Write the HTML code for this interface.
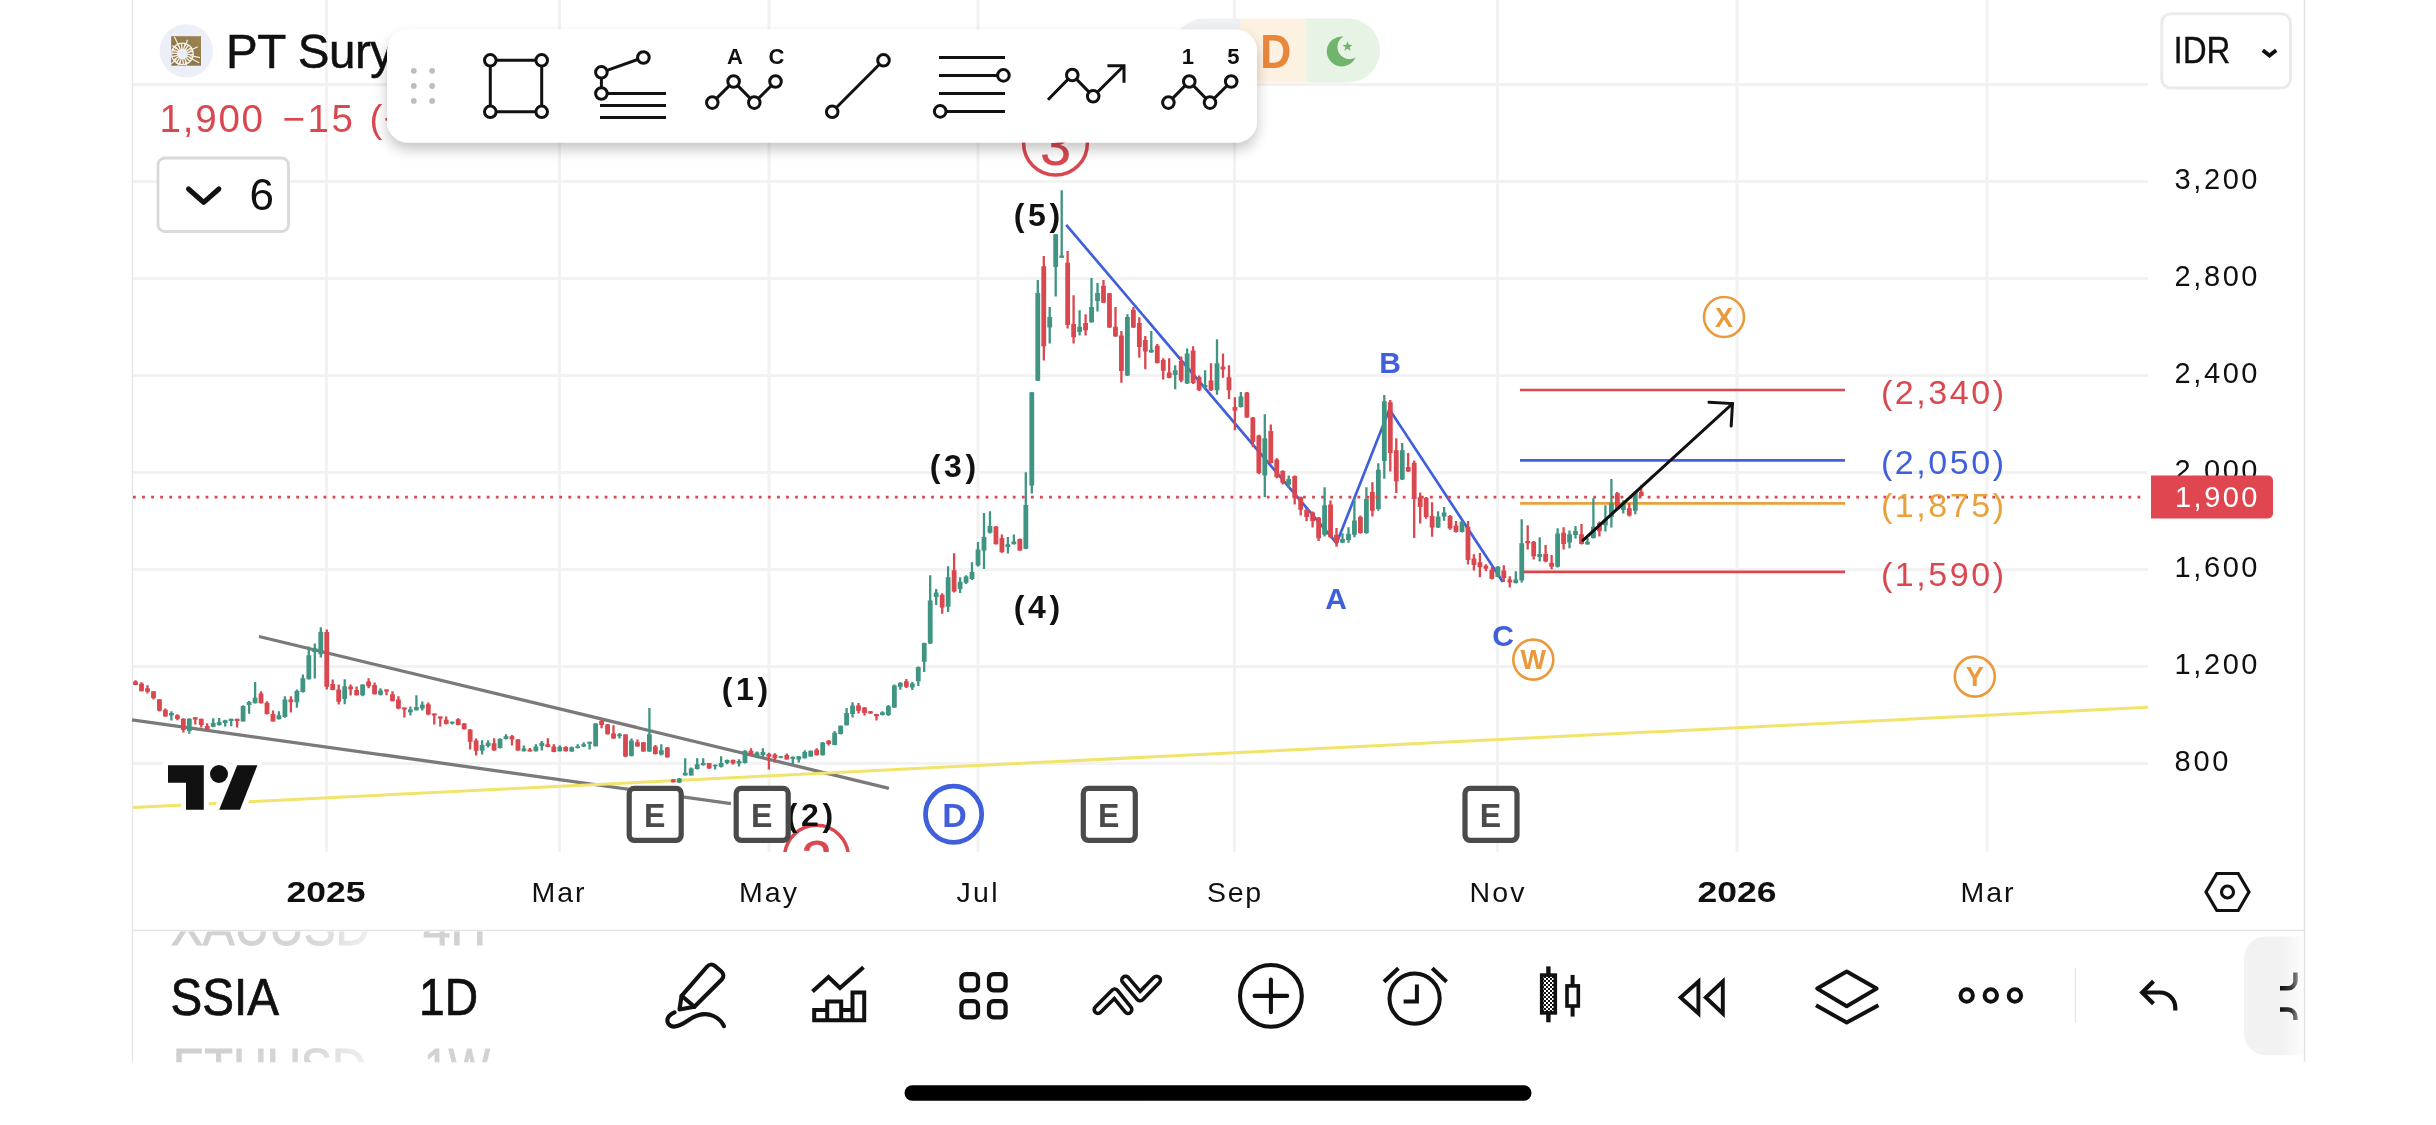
<!DOCTYPE html>
<html><head><meta charset="utf-8"><title>SSIA chart</title>
<style>
html,body{margin:0;padding:0;background:#fff;}
body{width:2436px;height:1125px;overflow:hidden;font-family:"Liberation Sans", sans-serif;}
svg{display:block;position:absolute;left:0;top:0;will-change:transform;}
svg text{font-family:"Liberation Sans", sans-serif;}
</style></head>
<body>
<svg width="2436" height="1125" viewBox="0 0 2436 1125">
<g stroke="#f2f2f3" stroke-width="3" fill="none">
<path d="M133 84.5H2148"/>
<path d="M133 181.5H2148"/>
<path d="M133 278.5H2148"/>
<path d="M133 375.5H2148"/>
<path d="M133 472.5H2148"/>
<path d="M133 569.5H2148"/>
<path d="M133 666.5H2148"/>
<path d="M133 763.5H2148"/>
<path d="M326.5 0V852"/>
<path d="M559.5 0V852"/>
<path d="M769 0V852"/>
<path d="M978 0V852"/>
<path d="M1234.5 0V852"/>
<path d="M1497.5 0V852"/>
<path d="M1737 0V852"/>
<path d="M1987 0V852"/>
</g>
<g stroke="#e3e3e6" stroke-width="1.3" fill="none">
<path d="M132.5 0V1062"/><path d="M2304.5 0V1062"/><path d="M132 930.5H2305"/>
</g>
<g stroke="#7a7a7a" stroke-width="3.3" fill="none" stroke-linecap="butt">
<path d="M259 636.5L889 788.3"/>
<path d="M132 719.8L731 803.6"/>
</g>
<path d="M133 807.5L2148 707.3" stroke="#f2e46a" stroke-width="3" fill="none"/>
<path d="M1066.2 224.8L1336.6 543.2L1389.4 409.3L1502.9 581.9" stroke="#3f5fdb" stroke-width="2.7" fill="none" stroke-linejoin="miter"/>
<path d="M1520 390.0H1845" stroke="#d9474f" stroke-width="2.6"/>
<path d="M1520 460.4H1845" stroke="#3f5fdb" stroke-width="2.6"/>
<path d="M1520 503.4H1845" stroke="#e9a23b" stroke-width="2.6"/>
<path d="M1523 571.9H1845" stroke="#d9474f" stroke-width="2.6"/>
<g id="cnd">
<path d="M135.6 680.3V685.3M141.5 682.2V691.3M147.5 685.3V693.6M153.5 691.3V699.5M159.5 699.2V711.6M165.4 708.4V716.6M177.4 714.2V720.3M183.4 718.2V732.6M195.3 717.3V724.4M201.3 718.7V727.6M207.2 723.3V729.9M237.1 718.7V727.6M261.0 691.3V703.5M267.0 701.3V714.5M273.0 710.5V721.6M290.9 696.3V712.6M326.8 629.4V689.6M332.7 679.6V690.2M338.7 684.4V704.5M350.6 684.4V695.6M356.6 686.4V695.6M368.6 678.2V688.3M374.6 682.4V694.5M386.5 689.4V695.2M392.5 691.3V701.4M398.4 696.3V709.3M404.4 707.5V717.6M428.3 702.4V715.3M434.3 713.4V724.6M440.3 716.4V726.4M446.2 716.4V724.4M458.2 718.2V725.3M464.2 723.0V729.4M470.1 729.2V749.4M476.1 738.5V755.5M494.1 738.2V750.7M512.0 735.0V745.4M518.0 739.0V750.7M529.9 748.1V751.6M547.8 738.2V747.3M553.8 744.3V752.3M565.8 746.2V751.6M601.6 719.8V728.3M607.6 724.0V734.5M613.5 725.3V738.8M625.5 734.2V757.3M637.5 739.6V746.6M643.4 742.1V751.7M655.4 745.0V754.6M667.3 747.1V757.8M673.3 779.1V782.6M709.1 762.9V768.8M733.0 759.4V764.5M751.0 748.2V755.3M768.9 752.8V769.5M774.9 753.2V762.4M786.8 753.5V759.6M816.7 748.2V755.6M828.6 740.0V745.5M858.5 703.0V713.5M864.5 707.1V715.6M870.5 711.1V713.7M876.5 713.8V720.4M906.3 679.0V687.9M942.2 593.3V613.8M954.1 553.3V592.4M996.0 526.1V544.6M1001.9 534.4V552.8M1019.8 538.5V550.8M1043.8 256.1V360.4M1067.6 251.1V328.4M1073.6 295.2V343.6M1085.6 314.2V335.6M1103.5 280.1V303.0M1109.5 292.9V327.9M1115.5 307.1V336.8M1121.4 331.1V382.7M1133.4 307.1V327.9M1139.3 317.2V357.8M1145.3 336.1V369.3M1157.3 344.0V363.6M1163.2 358.2V379.6M1169.2 358.2V378.3M1181.2 356.4V382.2M1193.1 346.3V384.0M1199.1 375.5V391.1M1211.0 363.2V391.1M1223.0 353.4V377.8M1229.0 365.3V399.1M1234.9 397.3V430.2M1246.9 392.0V417.8M1252.9 416.9V447.1M1258.8 434.7V474.3M1270.8 424.5V463.6M1276.8 458.3V478.2M1282.7 470.2V484.4M1294.7 475.6V504.4M1300.7 496.4V515.5M1306.6 508.9V521.3M1312.6 511.6V527.6M1318.6 516.9V540.9M1330.5 500.5V538.2M1336.5 528.1V546.8M1360.4 515.5V533.8M1372.4 482.2V516.5M1390.3 399.9V471.6M1396.3 438.3V492.9M1408.2 452.9V471.9M1414.2 460.4V537.9M1420.2 492.4V523.6M1426.1 497.0V518.7M1432.1 502.3V536.8M1450.0 515.1V529.7M1456.0 521.1V532.4M1468.0 521.1V564.5M1473.9 554.2V570.5M1479.9 553.1V577.3M1485.9 564.2V571.3M1491.9 566.7V579.6M1503.8 565.2V581.9M1509.8 576.3V587.4M1527.7 525.2V549.4M1533.7 541.1V559.6M1545.6 545.1V562.2M1551.6 555.1V569.3M1563.6 527.2V549.4M1581.5 524.1V544.5M1599.4 521.4V536.5M1617.3 492.0V510.1M1629.3 503.3V516.6M1641.2 485.2V496.5" stroke="#d9474f" stroke-width="2.3" fill="none"/>
<path d="M171.4 711.3V720.5M189.3 718.2V733.7M213.2 718.2V727.3M219.2 718.0V725.7M225.2 719.8V726.5M231.2 718.7V726.2M243.1 705.2V721.6M249.1 701.1V713.7M255.1 682.1V703.5M278.9 711.3V719.5M284.9 696.3V717.7M296.9 689.4V707.7M302.9 674.4V692.6M308.8 646.5V679.5M314.8 643.5V678.5M320.8 627.3V657.4M344.7 679.2V704.3M362.6 684.4V696.3M380.5 688.3V695.6M410.4 706.4V715.5M416.4 695.2V710.4M422.3 701.4V710.4M452.2 721.4V724.4M482.1 740.3V754.5M488.1 740.3V747.5M500.0 738.2V748.4M506.0 734.2V739.5M523.9 745.4V751.5M535.9 744.3V751.6M541.8 741.1V750.5M559.8 745.2V751.6M571.7 746.5V751.8M577.7 744.3V748.4M583.7 742.2V747.0M589.6 741.7V749.4M595.6 723.0V746.5M619.5 733.1V738.5M631.5 738.5V756.6M649.4 708.1V751.7M661.3 744.2V755.6M679.3 778.1V782.9M685.2 758.3V775.6M691.2 767.4V775.6M697.2 758.3V769.5M703.2 758.3V765.6M715.1 764.5V769.5M721.1 756.2V767.4M727.1 759.4V764.2M739.0 759.2V766.6M745.0 750.3V763.6M757.0 751.4V757.0M762.9 748.2V757.2M780.8 756.0V758.3M792.8 756.5V764.2M798.8 756.0V762.4M804.8 750.3V758.6M810.7 750.6V756.7M822.7 742.1V755.6M834.6 731.1V745.3M840.6 725.4V734.6M846.6 708.1V725.5M852.5 702.3V717.5M882.4 711.3V715.6M888.4 705.0V716.0M894.4 684.4V708.0M900.3 682.2V689.7M912.3 681.9V689.9M918.3 666.6V686.1M924.2 642.8V671.9M930.2 575.2V644.0M936.2 588.9V604.9M948.1 566.3V612.0M960.1 577.3V593.0M966.1 575.2V583.9M972.0 562.2V580.0M978.0 542.1V566.4M984.0 513.1V569.1M990.0 511.3V533.6M1007.9 537.1V553.5M1013.9 534.4V544.6M1025.8 472.2V549.2M1031.8 392.2V493.6M1037.8 280.1V380.7M1049.7 307.1V343.6M1055.7 234.2V296.4M1061.7 190.3V257.7M1079.6 310.3V335.6M1091.5 278.1V322.8M1097.5 283.1V311.6M1127.4 314.2V375.9M1151.3 331.1V352.8M1175.2 365.3V389.3M1187.1 348.4V384.0M1205.1 370.3V388.4M1217.0 339.2V394.7M1240.9 392.0V407.5M1264.8 414.2V496.9M1288.7 475.6V488.0M1324.6 487.2V536.4M1342.5 533.2V543.0M1348.5 527.2V542.7M1354.4 498.2V537.3M1366.4 487.2V533.8M1378.3 463.2V510.7M1384.3 395.1V478.7M1402.2 443.1V479.9M1438.1 511.2V527.9M1444.1 507.1V520.8M1462.0 521.1V532.4M1497.8 566.0V577.3M1515.8 571.3V583.4M1521.7 519.2V582.6M1539.7 537.3V561.5M1557.6 528.2V567.5M1569.5 530.5V548.3M1575.5 526.0V538.5M1587.5 538.0V544.5M1593.4 498.3V538.5M1605.4 505.2V531.5M1611.4 479.1V527.5M1623.3 500.3V513.4M1635.3 491.2V514.3" stroke="#3f9582" stroke-width="2.3" fill="none"/>
<path d="M133.15 681.4h4.8V685.1h-4.8zM139.12 683.5h4.8V691.3h-4.8zM145.10 688.3h4.8V691.7h-4.8zM151.08 691.3h4.8V697.9h-4.8zM157.05 699.2h4.8V710.7h-4.8zM163.03 709.7h4.8V716.6h-4.8zM174.97 715.3h4.8V718.7h-4.8zM180.95 718.7h4.8V729.9h-4.8zM192.90 717.3h4.8V719.5h-4.8zM198.88 718.7h4.8V725.1h-4.8zM204.85 726.0h4.8V729.4h-4.8zM234.72 718.7h4.8V720.9h-4.8zM258.62 693.6h4.8V703.3h-4.8zM264.60 702.7h4.8V714.1h-4.8zM270.58 713.9h4.8V721.4h-4.8zM288.50 699.5h4.8V702.2h-4.8zM324.35 632.0h4.8V686.7h-4.8zM330.33 684.0h4.8V689.9h-4.8zM336.30 689.4h4.8V701.7h-4.8zM348.25 686.4h4.8V689.2h-4.8zM354.23 689.9h4.8V695.2h-4.8zM366.18 681.4h4.8V686.2h-4.8zM372.15 685.1h4.8V694.2h-4.8zM384.10 689.4h4.8V691.5h-4.8zM390.08 694.2h4.8V701.1h-4.8zM396.05 699.5h4.8V708.6h-4.8zM402.03 707.5h4.8V709.6h-4.8zM425.93 704.3h4.8V714.4h-4.8zM431.90 713.4h4.8V715.5h-4.8zM437.88 716.4h4.8V718.5h-4.8zM443.85 719.8h4.8V724.0h-4.8zM455.80 719.2h4.8V724.9h-4.8zM461.78 723.5h4.8V729.2h-4.8zM467.75 729.4h4.8V741.7h-4.8zM473.73 740.6h4.8V750.7h-4.8zM491.65 743.3h4.8V750.5h-4.8zM509.57 736.3h4.8V739.5h-4.8zM515.55 739.5h4.8V750.5h-4.8zM527.50 749.4h4.8V751.6h-4.8zM545.43 744.3h4.8V747.0h-4.8zM551.40 746.5h4.8V752.0h-4.8zM563.35 747.0h4.8V751.3h-4.8zM599.20 720.8h4.8V725.1h-4.8zM605.18 724.6h4.8V734.2h-4.8zM611.15 733.6h4.8V738.5h-4.8zM623.10 734.5h4.8V756.6h-4.8zM635.05 742.3h4.8V746.4h-4.8zM641.02 742.3h4.8V751.4h-4.8zM652.98 746.6h4.8V754.0h-4.8zM664.93 747.6h4.8V757.2h-4.8zM670.90 779.4h4.8V782.3h-4.8zM706.75 763.1h4.8V768.5h-4.8zM730.65 759.9h4.8V763.6h-4.8zM748.57 750.8h4.8V755.1h-4.8zM766.50 754.0h4.8V756.7h-4.8zM772.48 754.6h4.8V758.3h-4.8zM784.43 755.1h4.8V759.4h-4.8zM814.30 749.8h4.8V755.3h-4.8zM826.25 740.7h4.8V743.9h-4.8zM856.12 705.5h4.8V710.8h-4.8zM862.10 707.6h4.8V712.9h-4.8zM868.07 711.3h4.8V713.5h-4.8zM874.05 714.0h4.8V716.2h-4.8zM903.93 681.3h4.8V686.7h-4.8zM939.77 594.8h4.8V607.6h-4.8zM951.73 570.2h4.8V591.6h-4.8zM993.55 526.4h4.8V544.2h-4.8zM999.52 538.0h4.8V552.2h-4.8zM1017.45 538.9h4.8V550.4h-4.8zM1041.35 266.2h4.8V346.2h-4.8zM1065.25 262.7h4.8V324.9h-4.8zM1071.22 324.0h4.8V337.3h-4.8zM1083.17 323.1h4.8V330.2h-4.8zM1101.10 285.8h4.8V302.7h-4.8zM1107.07 293.2h4.8V327.6h-4.8zM1113.05 326.7h4.8V336.4h-4.8zM1119.02 335.6h4.8V371.1h-4.8zM1130.97 309.8h4.8V327.6h-4.8zM1136.95 323.1h4.8V347.1h-4.8zM1142.92 340.0h4.8V351.6h-4.8zM1154.87 345.8h4.8V363.0h-4.8zM1160.85 360.0h4.8V370.7h-4.8zM1166.82 372.4h4.8V377.8h-4.8zM1178.77 360.9h4.8V380.4h-4.8zM1190.72 350.6h4.8V383.1h-4.8zM1196.70 376.9h4.8V390.2h-4.8zM1208.65 380.4h4.8V390.2h-4.8zM1220.60 366.6h4.8V369.4h-4.8zM1226.57 377.2h4.8V390.2h-4.8zM1232.55 407.1h4.8V410.7h-4.8zM1244.50 392.4h4.8V417.4h-4.8zM1250.47 417.4h4.8V441.8h-4.8zM1256.45 435.6h4.8V472.9h-4.8zM1268.40 431.1h4.8V463.1h-4.8zM1274.37 459.6h4.8V477.3h-4.8zM1280.35 471.1h4.8V482.7h-4.8zM1292.30 476.0h4.8V498.2h-4.8zM1298.27 497.3h4.8V509.8h-4.8zM1304.25 509.8h4.8V516.9h-4.8zM1310.22 512.4h4.8V521.3h-4.8zM1316.20 517.8h4.8V538.2h-4.8zM1328.15 504.4h4.8V537.3h-4.8zM1334.12 534.7h4.8V542.7h-4.8zM1358.02 516.9h4.8V532.9h-4.8zM1369.97 492.0h4.8V510.7h-4.8zM1387.90 402.2h4.8V452.9h-4.8zM1393.87 450.2h4.8V481.3h-4.8zM1405.82 467.1h4.8V471.6h-4.8zM1411.80 462.7h4.8V499.1h-4.8zM1417.77 497.3h4.8V507.1h-4.8zM1423.75 497.7h4.8V516.9h-4.8zM1429.72 516.0h4.8V527.6h-4.8zM1447.65 516.0h4.8V528.4h-4.8zM1453.62 525.5h4.8V532.0h-4.8zM1465.57 526.7h4.8V559.9h-4.8zM1471.55 558.4h4.8V564.9h-4.8zM1477.52 562.2h4.8V567.2h-4.8zM1483.50 565.7h4.8V568.7h-4.8zM1489.47 569.8h4.8V578.8h-4.8zM1501.42 570.5h4.8V578.1h-4.8zM1507.40 579.6h4.8V582.6h-4.8zM1525.32 541.1h4.8V543.3h-4.8zM1531.30 541.8h4.8V556.2h-4.8zM1543.25 553.9h4.8V561.5h-4.8zM1549.22 562.7h4.8V566.7h-4.8zM1561.17 532.8h4.8V544.1h-4.8zM1579.10 534.3h4.8V544.1h-4.8zM1597.02 522.9h4.8V531.2h-4.8zM1614.95 493.2h4.8V509.3h-4.8zM1626.90 508.3h4.8V515.4h-4.8zM1638.85 491.7h4.8V496.0h-4.8z" fill="#d9474f"/>
<path d="M169.00 712.9h4.8V715.5h-4.8zM186.93 718.7h4.8V731.0h-4.8zM210.83 723.0h4.8V726.7h-4.8zM216.80 721.9h4.8V725.1h-4.8zM222.78 720.3h4.8V723.0h-4.8zM228.75 718.7h4.8V720.9h-4.8zM240.70 705.9h4.8V721.4h-4.8zM246.67 702.0h4.8V704.9h-4.8zM252.65 697.7h4.8V703.3h-4.8zM276.55 715.3h4.8V719.3h-4.8zM282.53 699.5h4.8V717.1h-4.8zM294.48 691.0h4.8V702.2h-4.8zM300.45 678.2h4.8V692.0h-4.8zM306.43 655.2h4.8V679.2h-4.8zM312.40 648.3h4.8V652.0h-4.8zM318.38 631.7h4.8V654.2h-4.8zM342.28 686.2h4.8V699.0h-4.8zM360.20 684.6h4.8V695.2h-4.8zM378.12 690.4h4.8V694.7h-4.8zM408.00 709.6h4.8V712.3h-4.8zM413.98 707.0h4.8V710.2h-4.8zM419.95 704.8h4.8V708.6h-4.8zM449.82 721.7h4.8V723.5h-4.8zM479.70 744.9h4.8V750.7h-4.8zM485.68 742.7h4.8V745.9h-4.8zM497.62 739.0h4.8V748.1h-4.8zM503.60 736.3h4.8V739.0h-4.8zM521.52 748.6h4.8V751.3h-4.8zM533.48 746.5h4.8V751.3h-4.8zM539.45 742.7h4.8V745.9h-4.8zM557.38 747.0h4.8V751.3h-4.8zM569.32 747.3h4.8V751.6h-4.8zM575.30 746.2h4.8V748.1h-4.8zM581.27 744.3h4.8V746.5h-4.8zM587.25 741.7h4.8V743.8h-4.8zM593.23 723.5h4.8V746.2h-4.8zM617.12 734.2h4.8V736.3h-4.8zM629.07 740.6h4.8V755.8h-4.8zM647.00 734.3h4.8V751.4h-4.8zM658.95 750.3h4.8V754.6h-4.8zM676.88 778.6h4.8V782.6h-4.8zM682.85 772.7h4.8V775.4h-4.8zM688.82 768.5h4.8V775.4h-4.8zM694.80 764.2h4.8V769.0h-4.8zM700.77 763.1h4.8V765.2h-4.8zM712.73 764.7h4.8V766.3h-4.8zM718.70 763.1h4.8V766.8h-4.8zM724.68 759.9h4.8V763.1h-4.8zM736.62 761.0h4.8V763.6h-4.8zM742.60 750.8h4.8V763.1h-4.8zM754.55 752.4h4.8V756.7h-4.8zM760.52 751.9h4.8V755.1h-4.8zM778.45 756.2h4.8V757.8h-4.8zM790.40 756.7h4.8V758.8h-4.8zM796.37 756.2h4.8V759.4h-4.8zM802.35 751.9h4.8V758.3h-4.8zM808.32 750.8h4.8V756.4h-4.8zM820.27 742.5h4.8V755.3h-4.8zM832.23 732.7h4.8V745.0h-4.8zM838.20 725.8h4.8V734.0h-4.8zM844.18 712.9h4.8V725.2h-4.8zM850.15 705.5h4.8V714.0h-4.8zM880.02 712.2h4.8V715.1h-4.8zM886.00 706.2h4.8V715.1h-4.8zM891.98 685.4h4.8V707.5h-4.8zM897.95 682.8h4.8V686.7h-4.8zM909.90 683.6h4.8V687.6h-4.8zM915.87 667.1h4.8V681.3h-4.8zM921.85 643.1h4.8V661.8h-4.8zM927.82 600.4h4.8V643.5h-4.8zM933.80 592.4h4.8V596.9h-4.8zM945.75 577.3h4.8V606.7h-4.8zM957.70 581.8h4.8V588.9h-4.8zM963.68 576.4h4.8V582.7h-4.8zM969.65 572.0h4.8V579.1h-4.8zM975.62 549.6h4.8V565.6h-4.8zM981.60 537.1h4.8V550.4h-4.8zM987.57 526.1h4.8V532.7h-4.8zM1005.50 544.2h4.8V546.9h-4.8zM1011.48 541.6h4.8V544.2h-4.8zM1023.43 505.1h4.8V548.7h-4.8zM1029.40 392.2h4.8V485.6h-4.8zM1035.37 292.9h4.8V380.7h-4.8zM1047.32 316.9h4.8V327.6h-4.8zM1053.30 234.2h4.8V267.1h-4.8zM1059.27 255.6h4.8V257.7h-4.8zM1077.20 326.7h4.8V332.0h-4.8zM1089.15 307.1h4.8V322.2h-4.8zM1095.12 292.9h4.8V300.9h-4.8zM1125.00 316.9h4.8V375.6h-4.8zM1148.90 349.8h4.8V352.4h-4.8zM1172.80 370.3h4.8V375.1h-4.8zM1184.75 353.4h4.8V383.6h-4.8zM1202.67 384.9h4.8V387.6h-4.8zM1214.62 363.2h4.8V390.2h-4.8zM1238.52 396.4h4.8V407.1h-4.8zM1262.42 438.2h4.8V475.6h-4.8zM1286.32 479.1h4.8V484.4h-4.8zM1322.17 505.3h4.8V534.7h-4.8zM1340.10 539.1h4.8V542.7h-4.8zM1346.07 533.8h4.8V540.0h-4.8zM1352.05 520.4h4.8V534.7h-4.8zM1364.00 499.1h4.8V532.9h-4.8zM1375.95 469.8h4.8V508.9h-4.8zM1381.92 401.3h4.8V460.9h-4.8zM1399.85 450.2h4.8V479.6h-4.8zM1435.70 516.5h4.8V527.6h-4.8zM1441.67 512.4h4.8V516.5h-4.8zM1459.60 521.4h4.8V532.0h-4.8zM1495.45 566.7h4.8V576.9h-4.8zM1513.37 579.6h4.8V582.9h-4.8zM1519.35 543.3h4.8V580.3h-4.8zM1537.27 553.9h4.8V556.9h-4.8zM1555.20 533.5h4.8V566.7h-4.8zM1567.15 534.3h4.8V542.6h-4.8zM1573.12 530.9h4.8V535.0h-4.8zM1585.07 541.8h4.8V544.4h-4.8zM1591.05 526.7h4.8V538.0h-4.8zM1603.00 519.2h4.8V525.2h-4.8zM1608.97 503.3h4.8V516.9h-4.8zM1620.92 503.7h4.8V510.1h-4.8zM1632.87 491.7h4.8V510.8h-4.8z" fill="#3f9582"/>
</g>
<path d="M133 497.1H2146" stroke="#d9474f" stroke-width="2.6" stroke-dasharray="2.8 6.27" fill="none"/>
<g stroke="#111" stroke-width="3" fill="none" stroke-linecap="round"><path d="M1583 540.3L1732.5 403.6"/><path d="M1709 402.3L1732.5 403.6L1731.2 426"/></g>
<clipPath id="pane"><rect x="133" y="0" width="2015" height="852"/></clipPath>
<g clip-path="url(#pane)">
<circle cx="1055.5" cy="143.2" r="31.9" stroke="#d9474f" stroke-width="3.5" fill="none"/>
<text x="1055.5" y="165.4" font-size="56" fill="#d9474f" text-anchor="middle" stroke="#d9474f" stroke-width="0.2">3</text>
<circle cx="816.5" cy="857.2" r="31.9" stroke="#d9474f" stroke-width="3.5" fill="none"/>
<text x="816.5" y="879.2" font-size="56" fill="#d9474f" text-anchor="middle" stroke="#d9474f" stroke-width="0.2">2</text>
</g>
<text x="745" y="700.456" font-size="32" fill="#111" font-weight="bold" text-anchor="middle" textLength="46.5" lengthAdjust="spacing" >(1)</text>
<text x="810" y="826.456" font-size="32" fill="#111" font-weight="bold" text-anchor="middle" textLength="46.5" lengthAdjust="spacing" >(2)</text>
<text x="953" y="477.456" font-size="32" fill="#111" font-weight="bold" text-anchor="middle" textLength="46.5" lengthAdjust="spacing" >(3)</text>
<text x="1037" y="618.456" font-size="32" fill="#111" font-weight="bold" text-anchor="middle" textLength="46.5" lengthAdjust="spacing" >(4)</text>
<text x="1037" y="226.456" font-size="32" fill="#111" font-weight="bold" text-anchor="middle" textLength="46.5" lengthAdjust="spacing" >(5)</text>
<text x="1336" y="608.74" font-size="30" fill="#3f5fdb" font-weight="bold" text-anchor="middle" >A</text>
<text x="1390" y="372.74" font-size="30" fill="#3f5fdb" font-weight="bold" text-anchor="middle" >B</text>
<text x="1503" y="645.74" font-size="30" fill="#3f5fdb" font-weight="bold" text-anchor="middle" >C</text>
<text x="1881" y="403.8" font-size="34" fill="#d9474f" textLength="123" lengthAdjust="spacing" >(2,340)</text>
<text x="1881" y="474.2" font-size="34" fill="#3f5fdb" textLength="123" lengthAdjust="spacing" >(2,050)</text>
<text x="1881" y="516.9" font-size="34" fill="#e9a23b" textLength="123" lengthAdjust="spacing" >(1,875)</text>
<text x="1881" y="586.4000000000001" font-size="34" fill="#d9474f" textLength="123" lengthAdjust="spacing" >(1,590)</text>
<circle cx="1724" cy="317" r="20" stroke="#ea9a3c" stroke-width="2.6" fill="none"/>
<text x="1724" y="326.8" font-size="27" fill="#ea9a3c" font-weight="bold" text-anchor="middle" >X</text>
<circle cx="1533.3" cy="659.6" r="20" stroke="#ea9a3c" stroke-width="2.6" fill="none"/>
<text x="1533.3" y="669.4" font-size="27" fill="#ea9a3c" font-weight="bold" text-anchor="middle" >W</text>
<circle cx="1974.8" cy="676.6" r="20" stroke="#ea9a3c" stroke-width="2.6" fill="none"/>
<text x="1974.8" y="686.4" font-size="27" fill="#ea9a3c" font-weight="bold" text-anchor="middle" >Y</text>
<rect x="629.2" y="788.3" width="52" height="52" rx="5" fill="#fff" stroke="#4a4a4a" stroke-width="5.2"/>
<text x="644.0" y="827.4" font-size="34" fill="#4a4a4a" font-weight="bold" textLength="21.4" lengthAdjust="spacingAndGlyphs" >E</text>
<rect x="736.2" y="788.3" width="52" height="52" rx="5" fill="#fff" stroke="#4a4a4a" stroke-width="5.2"/>
<text x="751.0" y="827.4" font-size="34" fill="#4a4a4a" font-weight="bold" textLength="21.4" lengthAdjust="spacingAndGlyphs" >E</text>
<rect x="1083.3" y="788.3" width="52" height="52" rx="5" fill="#fff" stroke="#4a4a4a" stroke-width="5.2"/>
<text x="1098.1" y="827.4" font-size="34" fill="#4a4a4a" font-weight="bold" textLength="21.4" lengthAdjust="spacingAndGlyphs" >E</text>
<rect x="1465" y="788.3" width="52" height="52" rx="5" fill="#fff" stroke="#4a4a4a" stroke-width="5.2"/>
<text x="1479.8" y="827.4" font-size="34" fill="#4a4a4a" font-weight="bold" textLength="21.4" lengthAdjust="spacingAndGlyphs" >E</text>
<circle cx="953.6" cy="814.3" r="28.1" stroke="#3f5fdb" stroke-width="4.8" fill="#fff"/>
<text x="954.5" y="827.4" font-size="34" fill="#3f5fdb" font-weight="bold" text-anchor="middle" >D</text>
<g stroke="#fff" stroke-width="10" stroke-linejoin="round" fill="#fff"><path d="M168 765.2H203.8V809.8H186V782.8H168z"/><circle cx="219" cy="774" r="9"/><path d="M237.2 765.2H257.4L240 809.8H219.2z"/></g>
<g fill="#111"><path d="M168 765.2H203.8V809.8H186V782.8H168z"/><circle cx="219" cy="774" r="9"/><path d="M237.2 765.2H257.4L240 809.8H219.2z"/></g>
<text x="2174.5" y="188.70000000000002" font-size="29" fill="#101010" textLength="83" lengthAdjust="spacing" >3,200</text>
<text x="2174.5" y="285.7" font-size="29" fill="#101010" textLength="83" lengthAdjust="spacing" >2,800</text>
<text x="2174.5" y="382.7" font-size="29" fill="#101010" textLength="83" lengthAdjust="spacing" >2,400</text>
<text x="2174.5" y="479.7" font-size="29" fill="#101010" textLength="83" lengthAdjust="spacing" >2,000</text>
<text x="2174.5" y="576.6999999999999" font-size="29" fill="#101010" textLength="83" lengthAdjust="spacing" >1,600</text>
<text x="2174.5" y="673.6999999999999" font-size="29" fill="#101010" textLength="83" lengthAdjust="spacing" >1,200</text>
<text x="2174.5" y="770.6999999999999" font-size="29" fill="#101010" textLength="54" lengthAdjust="spacing" >800</text>
<path d="M2151 475.5H2268a5 5 0 0 1 5 5V513.5a5 5 0 0 1 -5 5H2151z" fill="#df4650"/>
<text x="2175" y="506.9" font-size="29" fill="#fff" textLength="82.5" lengthAdjust="spacing" >1,900</text>
<text x="286.5" y="902.3" font-size="30" fill="#101010" font-weight="bold" textLength="79" lengthAdjust="spacingAndGlyphs" >2025</text>
<text x="558" y="902" font-size="28.5" fill="#101010" text-anchor="middle" textLength="53" lengthAdjust="spacing" >Mar</text>
<text x="768" y="902" font-size="28.5" fill="#101010" text-anchor="middle" textLength="58" lengthAdjust="spacing" >May</text>
<text x="977" y="902" font-size="28.5" fill="#101010" text-anchor="middle" textLength="41" lengthAdjust="spacing" >Jul</text>
<text x="1234" y="902" font-size="28.5" fill="#101010" text-anchor="middle" textLength="54" lengthAdjust="spacing" >Sep</text>
<text x="1497" y="902" font-size="28.5" fill="#101010" text-anchor="middle" textLength="55" lengthAdjust="spacing" >Nov</text>
<text x="1697.5" y="902.3" font-size="30" fill="#101010" font-weight="bold" textLength="79" lengthAdjust="spacingAndGlyphs" >2026</text>
<text x="1987" y="902" font-size="28.5" fill="#101010" text-anchor="middle" textLength="53" lengthAdjust="spacing" >Mar</text>
<circle cx="186.3" cy="50.9" r="26.6" fill="#eceef8"/>
<defs><linearGradient id="lg" x1="0" y1="1" x2="1" y2="0"><stop offset="0" stop-color="#857046"/><stop offset="1" stop-color="#9c8353"/></linearGradient></defs>
<rect x="171.2" y="36.2" width="29.8" height="29.5" fill="url(#lg)"/>
<clipPath id="lgc"><rect x="171.2" y="36.2" width="29.8" height="29.5"/></clipPath>
<g clip-path="url(#lgc)">
<path d="M185.9 54.2L193.4 54.8M185.6 55.4L192.4 58.5M184.9 56.4L190.2 61.6M183.9 57.1L187.1 63.8M182.7 57.4L183.4 64.9M181.5 57.3L179.6 64.5M180.4 56.8L176.2 63.0M179.5 55.9L173.4 60.3M179.0 54.8L171.8 56.8M178.9 53.6L171.4 53.0M179.2 52.4L172.4 49.3M179.9 51.4L174.6 46.2M180.9 50.7L177.7 44.0M182.1 50.4L181.4 42.9M183.3 50.5L185.2 43.3M184.4 51.0L188.6 44.8M185.3 51.9L191.4 47.5M185.8 53.0L193.0 51.0" stroke="#f6f0e2" stroke-width="1.35" fill="none"/>
<path d="M179.0 46.6L174.4 36.7M185.1 46.4L187.5 39.8M189.7 50.5L197.8 46.7M190.2 55.6L200.0 57.6M189.5 57.7L199.2 62.8M185.1 61.4L187.2 67.1M179.7 61.4L176.9 68.9M176.5 59.3L169.0 65.9M174.7 56.0L168.9 57.5M174.9 51.2L168.3 48.8M176.3 48.8L172.4 45.5" stroke="#f6f0e2" stroke-width="1.2" fill="none"/>
<circle cx="182.4" cy="53.9" r="10.8" stroke="#f6f0e2" stroke-width="1.3" fill="none"/>
<circle cx="182.4" cy="53.9" r="5.2" fill="#eceef8"/>
</g>
<text x="226" y="67.7" font-size="47.5" fill="#101010" textLength="194" lengthAdjust="spacing" stroke="#101010" stroke-width="0.5">PT Surya</text>
<text x="159.5" y="131.7" font-size="38.5" fill="#d9474f" textLength="103.5" lengthAdjust="spacing" >1,900</text>
<text x="282.5" y="131.7" font-size="38.5" fill="#d9474f" textLength="70.5" lengthAdjust="spacing" >−15</text>
<text x="369.5" y="131.7" font-size="38.5" fill="#d9474f" textLength="166" lengthAdjust="spacing" >(−0.78%)</text>
<rect x="158" y="158" width="130.5" height="73.5" rx="7" fill="#fff" stroke="#d9d9d9" stroke-width="2.8"/>
<path d="M188.5 189L203.7 202.3L218.9 189" stroke="#111" stroke-width="5" fill="none" stroke-linecap="round" stroke-linejoin="round"/>
<text x="249.5" y="209.8" font-size="44" fill="#101010" >6</text>
<clipPath id="pill"><rect x="1172" y="18.5" width="208" height="64" rx="32"/></clipPath>
<g clip-path="url(#pill)"><rect x="1172" y="18" width="69" height="66" fill="#eef0f3"/><rect x="1240.5" y="18" width="66" height="66" fill="#fdf1e1"/><rect x="1306.4" y="18" width="75" height="66" fill="#e7f3e4"/></g>
<text x="1260.2" y="67.5" font-size="47.5" fill="#e8873a" font-weight="bold" textLength="31" lengthAdjust="spacingAndGlyphs" >D</text>
<path d="M1343.5 36.5A15 15 0 1 0 1355.5 57.5A12 12 0 0 1 1343.5 36.5z" fill="#6fb56b"/>
<polygon points="1347.5,41.3 1348.8,44.7 1352.4,44.9 1349.6,47.2 1350.6,50.7 1347.5,48.7 1344.4,50.7 1345.4,47.2 1342.6,44.9 1346.2,44.7" fill="#6fb56b"/>
<rect x="2161.8" y="13.7" width="128.6" height="74.3" rx="9" fill="#fff" stroke="#ebebeb" stroke-width="3"/>
<text x="2173.5" y="63" font-size="36" fill="#101010" textLength="57" lengthAdjust="spacingAndGlyphs" stroke="#101010" stroke-width="0.3">IDR</text>
<path d="M2262.8 50.2L2269.5 55.6L2276.2 50.2" stroke="#111" stroke-width="3.8" fill="none" stroke-linecap="butt" stroke-linejoin="miter"/>
<polygon points="2249.0,892.0 2238.2,910.5 2216.8,910.5 2206.0,892.0 2216.8,873.5 2238.2,873.5" stroke="#111" stroke-width="3.2" fill="none" stroke-linejoin="miter"/>
<circle cx="2227.5" cy="892" r="6" stroke="#111" stroke-width="3.2" fill="none"/>
<defs><filter id="sh" x="-10%" y="-30%" width="120%" height="180%"><feGaussianBlur in="SourceAlpha" stdDeviation="7"/><feOffset dy="7"/><feComponentTransfer><feFuncA type="linear" slope="0.23"/></feComponentTransfer><feMerge><feMergeNode/><feMergeNode in="SourceGraphic"/></feMerge></filter></defs>
<rect x="387" y="29.5" width="870" height="113" rx="21" fill="#fff" filter="url(#sh)"/>
<circle cx="413.8" cy="70.8" r="2.9" fill="#bdbdbd"/>
<circle cx="413.8" cy="86" r="2.9" fill="#bdbdbd"/>
<circle cx="413.8" cy="100.9" r="2.9" fill="#bdbdbd"/>
<circle cx="432.1" cy="70.8" r="2.9" fill="#bdbdbd"/>
<circle cx="432.1" cy="86" r="2.9" fill="#bdbdbd"/>
<circle cx="432.1" cy="100.9" r="2.9" fill="#bdbdbd"/>
<g stroke="#111" stroke-width="3" fill="#fff" stroke-linecap="butt">
<path d="M490.3 60.3H541.7V111.8H490.3z" fill="none"/>
<circle cx="490.3" cy="60.3" r="5.8"/>
<circle cx="541.7" cy="60.3" r="5.8"/>
<circle cx="490.3" cy="111.8" r="5.8"/>
<circle cx="541.7" cy="111.8" r="5.8"/>
<path d="M601.4 72.3L643.4 57.5M601.4 72.3V93.5H666M600 105.5H666M600 117.4H666" fill="none"/>
<circle cx="601.4" cy="72.3" r="5.8"/>
<circle cx="643.4" cy="57.5" r="5.8"/>
<circle cx="601.4" cy="93.5" r="5.8"/>
<path d="M712.3 102.6L733.6 81.5L754.3 102.6L775.5 81.5" fill="none"/>
<circle cx="712.3" cy="102.6" r="5.8"/>
<circle cx="733.6" cy="81.5" r="5.8"/>
<circle cx="754.3" cy="102.6" r="5.8"/>
<circle cx="775.5" cy="81.5" r="5.8"/>
<path d="M832.2 111.8L883.5 60.3" fill="none"/>
<circle cx="832.2" cy="111.8" r="5.8"/>
<circle cx="883.5" cy="60.3" r="5.8"/>
<path d="M939 57.5H1005M939 75.4H1003M939 93.5H1005M940 111.4H1005" fill="none"/>
<circle cx="1003.4" cy="75.4" r="5.8"/>
<circle cx="940.2" cy="111.4" r="5.8"/>
<path d="M1048 99.8L1072.3 75L1093.2 96.3L1124 65.8M1107.4 65.8H1124V82.8" fill="none" stroke-linejoin="miter"/>
<circle cx="1072.3" cy="75" r="5.8"/>
<circle cx="1093.2" cy="96.3" r="5.8"/>
<path d="M1168.4 102.6L1189.3 81.5L1210 102.6L1231.2 81.5" fill="none"/>
<circle cx="1168.4" cy="102.6" r="5.8"/>
<circle cx="1189.3" cy="81.5" r="5.8"/>
<circle cx="1210" cy="102.6" r="5.8"/>
<circle cx="1231.2" cy="81.5" r="5.8"/>
</g>
<text x="734.9" y="64.4" font-size="22" fill="#101010" font-weight="bold" text-anchor="middle" >A</text>
<text x="776.5" y="64.4" font-size="22" fill="#101010" font-weight="bold" text-anchor="middle" >C</text>
<text x="1187.8" y="64.4" font-size="22" fill="#101010" font-weight="bold" text-anchor="middle" >1</text>
<text x="1233.4" y="64.4" font-size="22" fill="#101010" font-weight="bold" text-anchor="middle" >5</text>
<rect x="133.5" y="931.5" width="2170" height="131" fill="#fff"/>
<clipPath id="wheel"><rect x="134" y="931.5" width="500" height="130.7"/></clipPath>
<defs><linearGradient id="fd" x1="0" y1="0" x2="1" y2="0"><stop offset="0" stop-color="#cfcfcf"/><stop offset="0.7" stop-color="#d6d6d6"/><stop offset="1" stop-color="#f0f0f0"/></linearGradient></defs>
<g clip-path="url(#wheel)">
<text x="171" y="945.2" font-size="51" fill="url(#fd)" textLength="199" lengthAdjust="spacingAndGlyphs" stroke="url(#fd)" stroke-width="0.9">XAUUSD</text>
<text x="423" y="945.2" font-size="51" fill="#d2d2d2" textLength="63" lengthAdjust="spacingAndGlyphs" stroke="#d2d2d2" stroke-width="0.9">4H</text>
<text x="173" y="1085.2" font-size="51" fill="url(#fd)" textLength="193" lengthAdjust="spacingAndGlyphs" stroke="url(#fd)" stroke-width="0.9">ETHUSD</text>
<text x="424" y="1085.2" font-size="51" fill="#d2d2d2" textLength="66" lengthAdjust="spacingAndGlyphs" stroke="#d2d2d2" stroke-width="0.9">1W</text>
</g>
<text x="170.5" y="1015.3" font-size="51" fill="#101010" textLength="108.5" lengthAdjust="spacingAndGlyphs" stroke="#101010" stroke-width="0.7">SSIA</text>
<text x="419" y="1015.3" font-size="51" fill="#101010" textLength="59" lengthAdjust="spacingAndGlyphs" stroke="#101010" stroke-width="0.7">1D</text>
<g stroke="#111" stroke-width="4.1" fill="none" stroke-linecap="round" stroke-linejoin="round">
<path d="M679.5 1009.4L681.6 995.8L707.2 966.5a5.5 5.5 0 0 1 7.6 -0.6l6.6 5.6a5.5 5.5 0 0 1 0.6 7.8L694.4 1006.8z"/>
<path d="M681.6 995.8L694.4 1006.8"/>
<path d="M674.5 1012.4C668 1015 665.8 1020 668.6 1024C672 1028.6 680 1026 688 1020.5C697 1014.2 706 1012.6 713.5 1016C718.5 1018.3 722 1022 723.9 1026.2"/>
</g>
<g stroke="#111" stroke-width="4" fill="none" stroke-linecap="butt" stroke-linejoin="miter">
<path d="M812.5 991.5L828.5 977L840 988L863.5 967.2"/>
<path d="M814.2 1020.3V1010H827.2V1001.6H841.2V1010H852.5V992.4H864.2V1020.3zM827.2 1010V1020.3M841.2 1010V1020.3M852.5 1010V1020.3"/>
</g>
<g stroke="#111" stroke-width="4.2" fill="none">
<rect x="961.4" y="974.1" width="16.6" height="16.2" rx="4.5"/>
<rect x="961.4" y="1001.2" width="16.6" height="16.2" rx="4.5"/>
<rect x="989.0" y="974.1" width="16.6" height="16.2" rx="4.5"/>
<rect x="989.0" y="1001.2" width="16.6" height="16.2" rx="4.5"/>
</g>
<g fill="none" stroke-linecap="round" stroke-linejoin="miter">
<path d="M1098 1009.6L1114.7 992.9L1128 1009.6" stroke="#111" stroke-width="11.2" stroke-linejoin="round"/>
<path d="M1098 1009.6L1114.7 992.9L1128 1009.6" stroke="#fff" stroke-width="4" stroke-linejoin="round"/>
<path d="M1125.6 980L1140 997L1156.6 980" stroke="#111" stroke-width="11.2" stroke-linejoin="round"/>
<path d="M1125.6 980L1140 997L1156.6 980" stroke="#fff" stroke-width="4" stroke-linejoin="round"/>
</g>
<g stroke="#111" stroke-width="4.1" fill="none" stroke-linecap="round">
<circle cx="1270.9" cy="995.9" r="30.9"/><path d="M1254.6 995.9H1287.2M1270.9 979.6V1012.2"/>
</g>
<g stroke="#111" stroke-width="4" fill="none" stroke-linecap="butt">
<circle cx="1414.6" cy="998.6" r="25.1"/><path d="M1416.9 984.6V1001.6H1403.6"/><path d="M1384 981.8L1398.4 968.2M1432.2 968.2L1446.6 981.8"/>
</g>
<defs><pattern id="chk" width="4" height="4" patternUnits="userSpaceOnUse"><rect width="4" height="4" fill="#fff"/><rect width="2" height="2" fill="#111"/><rect x="2" y="2" width="2" height="2" fill="#111"/></pattern></defs>
<path d="M1548.4 966.4V1022.3" stroke="#111" stroke-width="4.4"/>
<rect x="1541.7" y="975.1" width="13.6" height="37.8" fill="url(#chk)" stroke="#111" stroke-width="3.6"/>
<path d="M1572.6 974.9V1016.6" stroke="#111" stroke-width="4"/>
<rect x="1567" y="985.9" width="11.3" height="20.1" fill="#fff" stroke="#111" stroke-width="3.6"/>
<g stroke="#111" stroke-width="3.9" fill="none" stroke-linejoin="miter">
<path d="M1680.6 997.5L1698.4 981.5V1013.5z"/><path d="M1705.8 997.5L1722.8 981.5V1013.5z"/>
</g>
<g stroke="#111" stroke-width="4" fill="none" stroke-linejoin="round" stroke-linecap="butt">
<path d="M1846.7 971.6L1876.6 988.6L1846.7 1006.2L1817.2 988.6z"/><path d="M1816 1005.2L1846.7 1022.6L1878.4 1005.2"/>
</g>
<g stroke="#111" stroke-width="4" fill="none">
<circle cx="1966.7" cy="995.5" r="6.2"/>
<circle cx="1990.8" cy="995.5" r="6.2"/>
<circle cx="2014.9" cy="995.5" r="6.2"/>
</g>
<path d="M2075.4 968V1023" stroke="#e6e6e6" stroke-width="1.3"/>
<g stroke="#111" stroke-width="4.2" fill="none" stroke-linecap="butt" stroke-linejoin="miter">
<path d="M2153.5 981.2L2142.2 992.5L2153.5 1003.8"/><path d="M2142.2 992.5H2160A15.3 15.3 0 0 1 2175.3 1007.8V1010.6"/>
</g>
<defs><linearGradient id="tabg" x1="0" y1="0" x2="1" y2="0"><stop offset="0" stop-color="#f2f2f2"/><stop offset="0.62" stop-color="#f2f2f2"/><stop offset="1" stop-color="#fdfdfd"/></linearGradient><linearGradient id="icg" gradientUnits="userSpaceOnUse" x1="2280" y1="0" x2="2299" y2="0"><stop offset="0" stop-color="#111"/><stop offset="0.6" stop-color="#3a3a3a"/><stop offset="1" stop-color="#9a9a9a"/></linearGradient></defs>
<path d="M2304 936.4H2266a22 22 0 0 0 -22 22V1033.3a22 22 0 0 0 22 22H2304z" fill="url(#tabg)"/>
<g stroke="url(#icg)" stroke-width="4.4" fill="none"><path d="M2280 988.3H2288a7.5 7.5 0 0 0 7.5 -7.5V972.5"/><path d="M2280 1009.5H2288a7.5 7.5 0 0 1 7.5 7.5V1020"/></g>
<path d="M2304.5 0V1062" stroke="#e3e3e6" stroke-width="1.3"/>
<rect x="904.5" y="1085.3" width="627" height="15.4" rx="7.7" fill="#000"/>
</svg>
</body></html>
